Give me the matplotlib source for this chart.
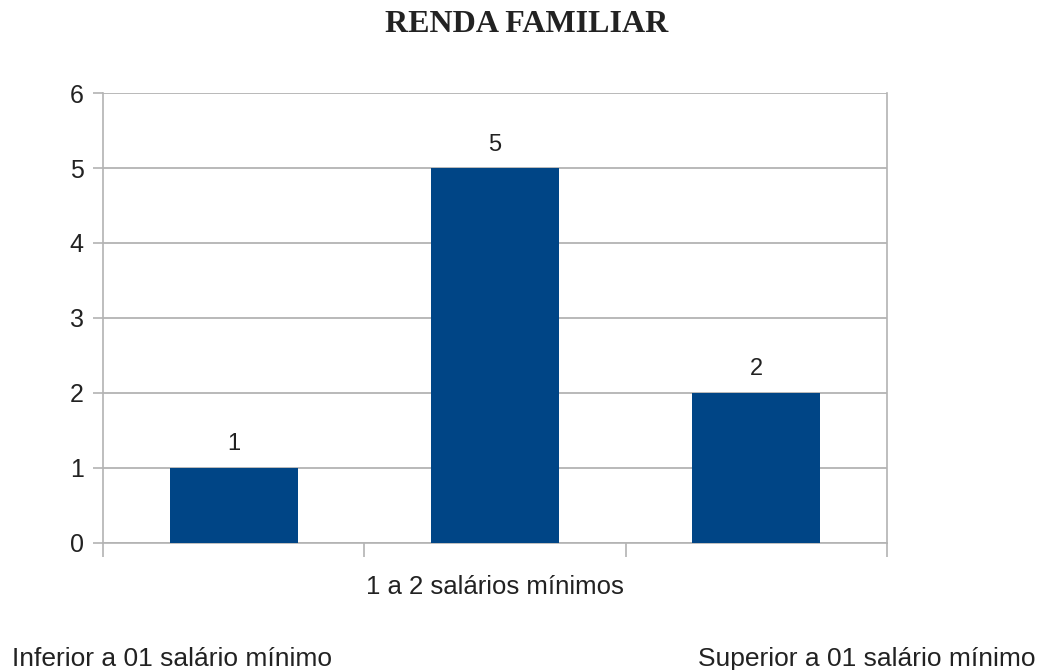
import numpy as np
import matplotlib
matplotlib.use("Agg")
import matplotlib.pyplot as plt

categorias = ["Inferior a 01 salário mínimo", "1 a 2 salários mínimos", "Superior a 01 salário mínimo"]
valores = [1, 5, 2]
yticks = [0, 1, 2, 3, 4, 5, 6]

cor_barra = "#004586"
cor_grade = "#b3b3b3"

plt.rcParams["font.family"] = ["Liberation Sans", "DejaVu Sans"]

fig = plt.figure(figsize=(10.4, 6.7), dpi=100)
ax = fig.add_axes([0.099, 0.19, 0.754, 0.671])

x = np.arange(len(categorias))
ax.bar(x, valores, width=0.49, color=cor_barra, zorder=3)

for xi, v in zip(x, valores):
    ax.annotate(str(v), (xi, v), xytext=(0, 9), textcoords="offset points",
                ha="center", va="bottom", fontsize=17, color="#222222")

ax.set_xlim(-0.5, len(categorias) - 0.5)
ax.set_ylim(0, 6)
ax.set_yticks(yticks)
ax.yaxis.grid(True, color=cor_grade, linewidth=1.3, zorder=0)
ax.tick_params(axis="y", direction="out", length=7, width=1.2, color=cor_grade,
               labelsize=18, labelcolor="#222222", pad=7)

# tick marks on the category boundaries, label only the middle one under the axis
ax.set_xticks(np.arange(len(categorias) + 1) - 0.5, minor=True)
ax.tick_params(axis="x", which="minor", direction="out", length=10, width=1.2, color=cor_grade)
ax.set_xticks(x)
ax.set_xticklabels(["", categorias[1], ""])
ax.tick_params(axis="x", which="major", length=0, labelsize=18.5, labelcolor="#222222", pad=23)

for s in ["left", "right", "bottom"]:
    ax.spines[s].set_color(cor_grade)
    ax.spines[s].set_linewidth(1.2)
ax.spines["top"].set_visible(False)

# outer category labels sit at the bottom corners of the figure
fig.text(12 / 1040, 0.017, categorias[0], ha="left", va="center", fontsize=19, color="#222222")
fig.text(1035 / 1040, 0.017, categorias[2], ha="right", va="center", fontsize=19, color="#222222")

fig.text(0.506, 0.963, "RENDA FAMILIAR", ha="center", va="center", fontsize=23,
         fontweight="bold", family=["Liberation Serif", "DejaVu Serif"], color="#222222")

fig.savefig("out.png", dpi=100)
